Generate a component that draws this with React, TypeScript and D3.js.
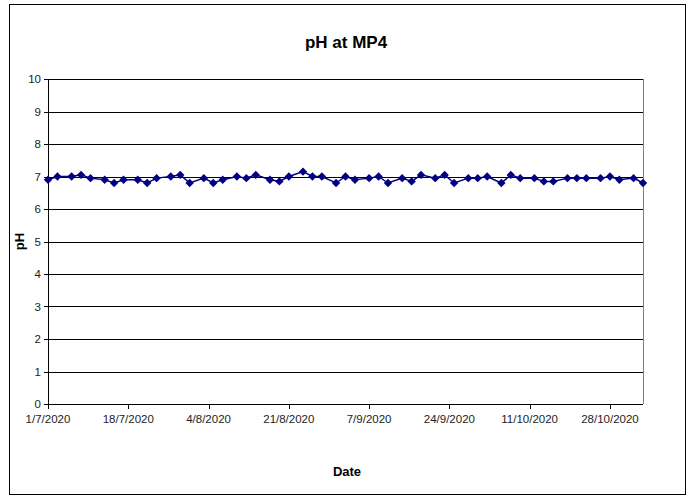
import { FC, useEffect, useRef } from "react";
import * as d3 from "d3";

const dates = [
  "1/7/2020", "3/7/2020", "6/7/2020", "8/7/2020", "10/7/2020", "13/7/2020", "15/7/2020",
  "17/7/2020", "20/7/2020", "22/7/2020", "24/7/2020", "27/7/2020", "29/7/2020", "31/7/2020",
  "3/8/2020", "5/8/2020", "7/8/2020", "10/8/2020", "12/8/2020", "14/8/2020", "17/8/2020",
  "19/8/2020", "21/8/2020", "24/8/2020", "26/8/2020", "28/8/2020", "31/8/2020",
  "2/9/2020", "4/9/2020", "7/9/2020", "9/9/2020", "11/9/2020", "14/9/2020", "16/9/2020",
  "18/9/2020", "21/9/2020", "23/9/2020", "25/9/2020", "28/9/2020", "30/9/2020",
  "2/10/2020", "5/10/2020", "7/10/2020", "9/10/2020", "12/10/2020", "14/10/2020", "16/10/2020",
  "19/10/2020", "21/10/2020", "23/10/2020", "26/10/2020", "28/10/2020", "30/10/2020",
  "2/11/2020", "4/11/2020",
];

const phValues = [
  6.9, 7.0, 7.0, 7.05, 6.95, 6.9, 6.8, 6.9, 6.9, 6.8, 6.95, 7.0, 7.05, 6.8,
  6.95, 6.8, 6.9, 7.0, 6.95, 7.05, 6.9, 6.85, 7.0, 7.15, 7.0, 7.0, 6.8,
  7.0, 6.9, 6.95, 7.0, 6.8, 6.95, 6.85, 7.05, 6.95, 7.05, 6.8, 6.95, 6.95,
  7.0, 6.8, 7.05, 6.95, 6.95, 6.85, 6.85, 6.95, 6.95, 6.95, 6.95, 7.0, 6.9,
  6.95, 6.8,
];

const xTickLabels = [
  "1/7/2020", "18/7/2020", "4/8/2020", "21/8/2020", "7/9/2020", "24/9/2020",
  "11/10/2020", "28/10/2020",
];

const yTicks = [0, 1, 2, 3, 4, 5, 6, 7, 8, 9, 10];

const title = "pH at MP4";
const xTitle = "Date";
const yTitle = "pH";

const parse = d3.timeParse("%d/%m/%Y");

const Chart: FC = () => {
  const ref = useRef<HTMLDivElement>(null);

  useEffect(() => {
    const node = draw();
    if (ref.current) {
      ref.current.innerHTML = "";
      ref.current.appendChild(node);
    }
  }, []);

  return <div ref={ref} style={{ position: "absolute", left: 0, top: 0 }}></div>;
};

function draw(): SVGSVGElement {
  const width = 694;
  const height = 500;
  const plot = { left: 48, right: 643, top: 79, bottom: 404 };
  const font = "'Liberation Sans', Arial, sans-serif";

  const data = dates.map((d, i) => ({ date: parse(d) as Date, value: phValues[i] }));

  const x = d3
    .scaleTime()
    .domain([parse(dates[0]) as Date, parse(dates[dates.length - 1]) as Date])
    .range([plot.left, plot.right]);
  const y = d3.scaleLinear().domain([0, 10]).range([plot.bottom, plot.top]);

  const svg = d3
    .create("svg")
    .attr("width", width)
    .attr("height", height)
    .attr("viewBox", [0, 0, width, height])
    .attr("font-family", font)
    .style("display", "block");

  svg.append("rect").attr("width", width).attr("height", height).attr("fill", "#fff");

  // outer chart border
  svg
    .append("rect")
    .attr("x", 9.5)
    .attr("y", 4.5)
    .attr("width", 676)
    .attr("height", 490)
    .attr("fill", "none")
    .attr("stroke", "#000")
    .attr("stroke-width", 1);

  // right border of plot area
  svg
    .append("line")
    .attr("x1", plot.right + 0.5)
    .attr("x2", plot.right + 0.5)
    .attr("y1", plot.top)
    .attr("y2", plot.bottom)
    .attr("stroke", "#808080");

  // gridlines
  svg
    .append("g")
    .selectAll("line")
    .data(yTicks.filter((d) => d > 0))
    .join("line")
    .attr("x1", plot.left)
    .attr("x2", plot.right)
    .attr("y1", (d) => Math.round(y(d)) + 0.5)
    .attr("y2", (d) => Math.round(y(d)) + 0.5)
    .attr("stroke", "#000");

  // y axis
  const yAxis = svg.append("g");
  yAxis
    .append("line")
    .attr("x1", plot.left + 0.5)
    .attr("x2", plot.left + 0.5)
    .attr("y1", plot.top)
    .attr("y2", plot.bottom)
    .attr("stroke", "#000");
  yAxis
    .selectAll("line.tick")
    .data(yTicks)
    .join("line")
    .attr("class", "tick")
    .attr("x1", plot.left - 4)
    .attr("x2", plot.left)
    .attr("y1", (d) => Math.round(y(d)) + 0.5)
    .attr("y2", (d) => Math.round(y(d)) + 0.5)
    .attr("stroke", "#000");
  yAxis
    .selectAll("text")
    .data(yTicks)
    .join("text")
    .attr("x", plot.left - 7)
    .attr("y", (d) => y(d) + 4)
    .attr("text-anchor", "end")
    .attr("font-size", 11.5)
    .attr("fill", "#222")
    .text((d) => d);

  // x axis
  const xAxis = svg.append("g");
  xAxis
    .append("line")
    .attr("x1", plot.left)
    .attr("x2", plot.right)
    .attr("y1", plot.bottom + 0.5)
    .attr("y2", plot.bottom + 0.5)
    .attr("stroke", "#000");
  const xTicks = xTickLabels.map((d) => parse(d) as Date);
  xAxis
    .selectAll("line.tick")
    .data(xTicks)
    .join("line")
    .attr("class", "tick")
    .attr("x1", (d) => Math.round(x(d)) + 0.5)
    .attr("x2", (d) => Math.round(x(d)) + 0.5)
    .attr("y1", plot.bottom)
    .attr("y2", plot.bottom + 5)
    .attr("stroke", "#000");
  xAxis
    .selectAll("text")
    .data(xTicks)
    .join("text")
    .attr("x", (d) => x(d))
    .attr("y", plot.bottom + 19)
    .attr("text-anchor", "middle")
    .attr("font-size", 11.5)
    .attr("fill", "#222")
    .text((d, i) => xTickLabels[i]);

  // series
  const line = d3
    .line<{ date: Date; value: number }>()
    .x((d) => x(d.date))
    .y((d) => y(d.value));

  svg
    .append("path")
    .datum(data)
    .attr("d", line)
    .attr("fill", "none")
    .attr("stroke", "#000080")
    .attr("stroke-width", 1.5);

  const diamond = d3.symbol().type(d3.symbolDiamond2).size(45);
  svg
    .append("g")
    .selectAll("path")
    .data(data)
    .join("path")
    .attr("transform", (d) => `translate(${x(d.date)},${y(d.value)})`)
    .attr("d", diamond)
    .attr("fill", "#000080");

  // titles
  svg
    .append("text")
    .attr("x", 346)
    .attr("y", 48)
    .attr("text-anchor", "middle")
    .attr("font-size", 17)
    .attr("font-weight", "bold")
    .text(title);

  svg
    .append("text")
    .attr("x", 347)
    .attr("y", 476)
    .attr("text-anchor", "middle")
    .attr("font-size", 13)
    .attr("font-weight", "bold")
    .text(xTitle);

  svg
    .append("text")
    .attr("transform", `translate(24,${(plot.top + plot.bottom) / 2}) rotate(-90)`)
    .attr("text-anchor", "middle")
    .attr("font-size", 13)
    .attr("font-weight", "bold")
    .text(yTitle);

  return svg.node() as SVGSVGElement;
}

export default function App() {
  return <Chart />;
}
